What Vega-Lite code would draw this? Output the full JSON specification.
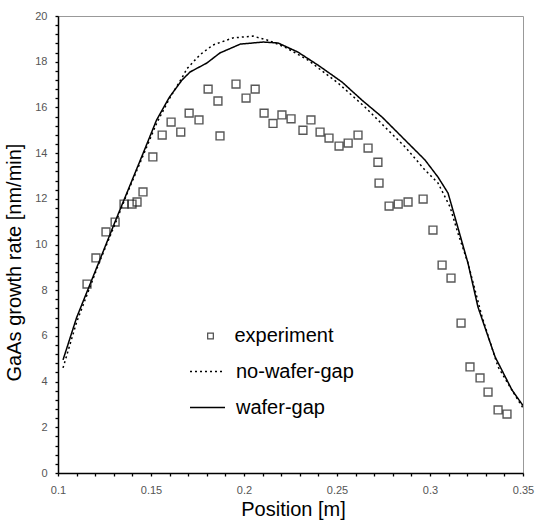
{
  "$schema": "https://vega.github.io/schema/vega-lite/v6.json",
  "autosize": {"type": "none"},
  "width": 465,
  "height": 457,
  "padding": {"left": 58, "top": 16, "right": 12, "bottom": 49},
  "background": "white",
  "config": {
    "view": {"stroke": "#999", "strokeWidth": 1},
    "font": "Liberation Sans"
  },
  "datasets": {
    "experiment": [
      {"series": "experiment", "x": 0.1156, "y": 8.27},
      {"series": "experiment", "x": 0.1204, "y": 9.41},
      {"series": "experiment", "x": 0.1258, "y": 10.55},
      {"series": "experiment", "x": 0.1307, "y": 10.98},
      {"series": "experiment", "x": 0.1355, "y": 11.77},
      {"series": "experiment", "x": 0.1398, "y": 11.77},
      {"series": "experiment", "x": 0.1425, "y": 11.86},
      {"series": "experiment", "x": 0.1457, "y": 12.3},
      {"series": "experiment", "x": 0.151, "y": 13.83},
      {"series": "experiment", "x": 0.156, "y": 14.79},
      {"series": "experiment", "x": 0.1608, "y": 15.36},
      {"series": "experiment", "x": 0.166, "y": 14.92},
      {"series": "experiment", "x": 0.1705, "y": 15.75},
      {"series": "experiment", "x": 0.1758, "y": 15.45},
      {"series": "experiment", "x": 0.1807, "y": 16.8},
      {"series": "experiment", "x": 0.186, "y": 16.28},
      {"series": "experiment", "x": 0.1871, "y": 14.75},
      {"series": "experiment", "x": 0.1957, "y": 17.02},
      {"series": "experiment", "x": 0.2011, "y": 16.41},
      {"series": "experiment", "x": 0.206, "y": 16.8},
      {"series": "experiment", "x": 0.2108, "y": 15.75},
      {"series": "experiment", "x": 0.2156, "y": 15.3},
      {"series": "experiment", "x": 0.2204, "y": 15.67},
      {"series": "experiment", "x": 0.2253, "y": 15.5},
      {"series": "experiment", "x": 0.2317, "y": 15.0},
      {"series": "experiment", "x": 0.236, "y": 15.45},
      {"series": "experiment", "x": 0.2409, "y": 14.92},
      {"series": "experiment", "x": 0.2457, "y": 14.66},
      {"series": "experiment", "x": 0.2511, "y": 14.31},
      {"series": "experiment", "x": 0.256, "y": 14.44},
      {"series": "experiment", "x": 0.2613, "y": 14.79},
      {"series": "experiment", "x": 0.2667, "y": 14.22},
      {"series": "experiment", "x": 0.272, "y": 13.6},
      {"series": "experiment", "x": 0.2726, "y": 12.69},
      {"series": "experiment", "x": 0.278, "y": 11.68},
      {"series": "experiment", "x": 0.2829, "y": 11.77},
      {"series": "experiment", "x": 0.2882, "y": 11.86},
      {"series": "experiment", "x": 0.2963, "y": 11.99},
      {"series": "experiment", "x": 0.3016, "y": 10.63},
      {"series": "experiment", "x": 0.3065, "y": 9.1},
      {"series": "experiment", "x": 0.3113, "y": 8.53},
      {"series": "experiment", "x": 0.3167, "y": 6.56},
      {"series": "experiment", "x": 0.3215, "y": 4.64},
      {"series": "experiment", "x": 0.3269, "y": 4.16},
      {"series": "experiment", "x": 0.3312, "y": 3.54},
      {"series": "experiment", "x": 0.3366, "y": 2.76},
      {"series": "experiment", "x": 0.3414, "y": 2.58}
    ],
    "model": [
      {"series": "wafer-gap", "x": 0.1027, "y": 4.95},
      {"series": "wafer-gap", "x": 0.11, "y": 6.8},
      {"series": "wafer-gap", "x": 0.1226, "y": 9.35},
      {"series": "wafer-gap", "x": 0.1307, "y": 11.0},
      {"series": "wafer-gap", "x": 0.137, "y": 12.25},
      {"series": "wafer-gap", "x": 0.1463, "y": 14.1},
      {"series": "wafer-gap", "x": 0.153, "y": 15.45},
      {"series": "wafer-gap", "x": 0.16, "y": 16.46},
      {"series": "wafer-gap", "x": 0.1667, "y": 17.2},
      {"series": "wafer-gap", "x": 0.171, "y": 17.55},
      {"series": "wafer-gap", "x": 0.18, "y": 17.94},
      {"series": "wafer-gap", "x": 0.187, "y": 18.38},
      {"series": "wafer-gap", "x": 0.198, "y": 18.77},
      {"series": "wafer-gap", "x": 0.2103, "y": 18.86},
      {"series": "wafer-gap", "x": 0.2183, "y": 18.82},
      {"series": "wafer-gap", "x": 0.229, "y": 18.42},
      {"series": "wafer-gap", "x": 0.2398, "y": 17.85},
      {"series": "wafer-gap", "x": 0.2527, "y": 17.11},
      {"series": "wafer-gap", "x": 0.2634, "y": 16.32},
      {"series": "wafer-gap", "x": 0.2742, "y": 15.58},
      {"series": "wafer-gap", "x": 0.2866, "y": 14.57},
      {"series": "wafer-gap", "x": 0.2973, "y": 13.7},
      {"series": "wafer-gap", "x": 0.3043, "y": 12.95},
      {"series": "wafer-gap", "x": 0.3097, "y": 12.25},
      {"series": "wafer-gap", "x": 0.3134, "y": 11.2},
      {"series": "wafer-gap", "x": 0.3204, "y": 9.19},
      {"series": "wafer-gap", "x": 0.3258, "y": 7.26},
      {"series": "wafer-gap", "x": 0.335, "y": 5.08},
      {"series": "wafer-gap", "x": 0.3441, "y": 3.63},
      {"series": "wafer-gap", "x": 0.35, "y": 2.95},
      {"series": "no-wafer-gap", "x": 0.1027, "y": 4.6},
      {"series": "no-wafer-gap", "x": 0.11, "y": 6.6},
      {"series": "no-wafer-gap", "x": 0.1226, "y": 9.3},
      {"series": "no-wafer-gap", "x": 0.1307, "y": 10.9},
      {"series": "no-wafer-gap", "x": 0.137, "y": 12.2},
      {"series": "no-wafer-gap", "x": 0.1463, "y": 14.0},
      {"series": "no-wafer-gap", "x": 0.153, "y": 15.3},
      {"series": "no-wafer-gap", "x": 0.16, "y": 16.4},
      {"series": "no-wafer-gap", "x": 0.1667, "y": 17.3},
      {"series": "no-wafer-gap", "x": 0.1694, "y": 17.7},
      {"series": "no-wafer-gap", "x": 0.1763, "y": 18.3},
      {"series": "no-wafer-gap", "x": 0.1833, "y": 18.73},
      {"series": "no-wafer-gap", "x": 0.194, "y": 19.04},
      {"series": "no-wafer-gap", "x": 0.2048, "y": 19.12},
      {"series": "no-wafer-gap", "x": 0.2124, "y": 18.95},
      {"series": "no-wafer-gap", "x": 0.222, "y": 18.64},
      {"series": "no-wafer-gap", "x": 0.2344, "y": 18.07},
      {"series": "no-wafer-gap", "x": 0.2505, "y": 17.07},
      {"series": "no-wafer-gap", "x": 0.265, "y": 16.02},
      {"series": "no-wafer-gap", "x": 0.2758, "y": 15.14},
      {"series": "no-wafer-gap", "x": 0.2866, "y": 14.27},
      {"series": "no-wafer-gap", "x": 0.2973, "y": 13.26},
      {"series": "no-wafer-gap", "x": 0.3043, "y": 12.69},
      {"series": "no-wafer-gap", "x": 0.3108, "y": 11.64},
      {"series": "no-wafer-gap", "x": 0.315, "y": 10.5},
      {"series": "no-wafer-gap", "x": 0.3204, "y": 9.19},
      {"series": "no-wafer-gap", "x": 0.328, "y": 6.83},
      {"series": "no-wafer-gap", "x": 0.3366, "y": 4.64},
      {"series": "no-wafer-gap", "x": 0.3473, "y": 3.19},
      {"series": "no-wafer-gap", "x": 0.35, "y": 2.85}
    ]
  },
  "encoding": {
    "x": {
      "field": "x",
      "type": "quantitative",
      "scale": {"domain": [0.1, 0.35], "nice": false, "zero": false},
      "axis": {
        "title": "Position [m]",
        "values": [0.1, 0.11, 0.12, 0.13, 0.14, 0.15, 0.16, 0.17, 0.18, 0.19, 0.2, 0.21, 0.22, 0.23, 0.24, 0.25, 0.26, 0.27, 0.28, 0.29, 0.3, 0.31, 0.32, 0.33, 0.34, 0.35],
        "format": "~g",
        "labelExpr": "abs(datum.value*20 - round(datum.value*20)) < 0.001 ? datum.label : ''",
        "labelOverlap": false,
        "labelFlush": false,
        "labelFontSize": 11,
        "labelColor": "#555",
        "labelPadding": 8,
        "ticks": true,
        "tickSize": 3,
        "tickColor": "#000",
        "tickWidth": 1.3,
        "domainColor": "#000",
        "domainWidth": 1.5,
        "grid": false,
        "titleFontSize": 20,
        "titleFontWeight": "normal",
        "titleColor": "#000",
        "titleX": 235,
        "titleY": 36,
        "titleBaseline": "middle",
        "titleAlign": "center"
      }
    },
    "y": {
      "field": "y",
      "type": "quantitative",
      "scale": {"domain": [0, 20], "nice": false},
      "axis": {
        "title": "GaAs growth rate [nm/min]",
        "values": [0, 0.4, 0.8, 1.2, 1.6, 2, 2.4, 2.8, 3.2, 3.6, 4, 4.4, 4.8, 5.2, 5.6, 6, 6.4, 6.8, 7.2, 7.6, 8, 8.4, 8.8, 9.2, 9.6, 10, 10.4, 10.8, 11.2, 11.6, 12, 12.4, 12.8, 13.2, 13.6, 14, 14.4, 14.8, 15.2, 15.6, 16, 16.4, 16.8, 17.2, 17.6, 18, 18.4, 18.8, 19.2, 19.6, 20],
        "format": "~g",
        "labelExpr": "abs(datum.value/2 - round(datum.value/2)) < 0.001 ? datum.label : ''",
        "labelOverlap": false,
        "labelFlush": false,
        "labelFontSize": 11,
        "labelColor": "#555",
        "labelPadding": 8,
        "ticks": true,
        "tickSize": 3,
        "tickColor": "#000",
        "tickWidth": 1.3,
        "domainColor": "#000",
        "domainWidth": 1.5,
        "grid": false,
        "titleFontSize": 20,
        "titleFontWeight": "normal",
        "titleColor": "#000",
        "titleX": -44,
        "titleY": 246,
        "titleAngle": -90,
        "titleBaseline": "middle",
        "titleAlign": "center"
      }
    }
  },
  "layer": [
    {
      "data": {"name": "model"},
      "mark": {"type": "line", "strokeWidth": 1.5, "color": "#000", "clip": true},
      "encoding": {
        "strokeDash": {
          "field": "series",
          "type": "nominal",
          "scale": {"domain": ["no-wafer-gap", "wafer-gap"], "range": [[2, 3], [1, 0]]},
          "legend": {
            "orient": "none",
            "legendX": 131,
            "legendY": 337,
            "title": null,
            "padding": 0,
            "symbolType": "stroke",
            "symbolSize": 1225,
            "symbolStrokeWidth": 1.5,
            "symbolStrokeColor": "#000",
            "labelFontSize": 20,
            "labelFont": "Liberation Sans",
            "labelColor": "#000",
            "labelOffset": 10,
            "rowPadding": 7
          }
        }
      }
    },
    {
      "data": {"name": "experiment"},
      "mark": {"type": "point", "shape": "square", "filled": false, "size": 62, "strokeWidth": 1.4, "color": "#111"},
      "encoding": {
        "shape": {
          "field": "series",
          "type": "nominal",
          "scale": {"domain": ["experiment"], "range": ["square"]},
          "legend": {
            "orient": "none",
            "legendX": 142.5,
            "legendY": 310,
            "title": null,
            "padding": 0,
            "symbolSize": 32,
            "symbolStrokeWidth": 1.2,
            "symbolStrokeColor": "#000",
            "symbolFillColor": "transparent",
            "labelFontSize": 20,
            "labelFont": "Liberation Sans",
            "labelColor": "#000",
            "labelOffset": 14
          }
        }
      }
    }
  ]
}
